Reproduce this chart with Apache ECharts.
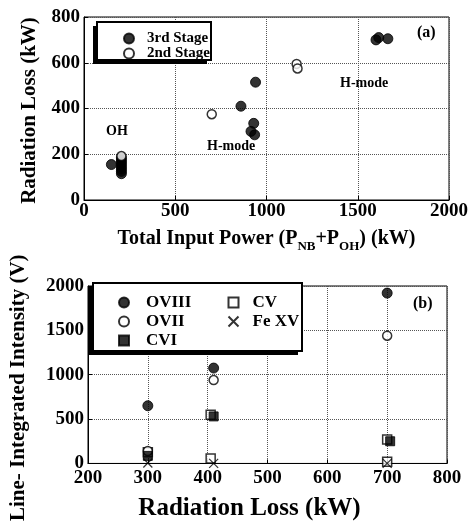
<!DOCTYPE html>
<html>
<head>
<meta charset="utf-8">
<script src="https://cdn.jsdelivr.net/npm/echarts@6/dist/echarts.min.js"></script>
<style>
  html, body { margin: 0; padding: 0; background: #fff; }
  #chart { width: 474px; height: 524px; }
</style>
</head>
<body>
<div id="chart"></div>
<script>
// panel (a): radiation loss vs total input power
const stage3 = [
  [150, 155], [205, 115], [205, 125], [205, 135], [205, 145], [205, 155],
  [205, 165], [205, 175], [205, 185],
  [860, 410], [940, 515], [930, 335], [915, 300], [935, 285],
  [1600, 700], [1615, 710], [1665, 705],
]
const stage2 = [[205, 192], [700, 375], [1165, 595], [1170, 575]]

// panel (b): line-integrated intensity vs radiation loss
const ovIII = [[300, 650], [410, 1075], [700, 1920]]
const ovII = [[300, 140], [410, 940], [700, 1440]]
const cvI = [[300, 85], [410, 530], [705, 250]]
const cv = [[300, 125], [405, 550], [405, 55], [700, 270], [700, 20]]
const feXV = [[300, 5], [410, 0], [700, 0]]

const font = 'Liberation Serif'
const tick = { fontFamily: font, fontWeight: 'bold', fontSize: 19, color: '#000', formatter: (v) => String(v) }
const split = { show: true, lineStyle: { color: '#555', type: 'dotted', width: 1 } }
const line = { lineStyle: { color: '#000', width: 1 } }

function axisX(gridIndex, min, max, interval, name, nameGap, nameSize, pad, margin) {
  return {
    type: 'value', gridIndex, min, max, interval,
    name, nameLocation: 'middle', nameGap,
    nameTextStyle: {
      fontFamily: font, fontWeight: 'bold', fontSize: nameSize, color: '#000', padding: pad,
      rich: { sub: { fontFamily: font, fontWeight: 'bold', fontSize: 13, color: '#000', verticalAlign: 'bottom', padding: [16, 0, 0, 0] } },
    },
    axisLine: line, axisTick: { inside: true, length: 4, lineStyle: { color: '#000' } },
    axisLabel: Object.assign({ margin }, tick), splitLine: split,
  }
}
function axisY(gridIndex, min, max, interval, name, nameGap, nameSize, pad) {
  return {
    type: 'value', gridIndex, min, max, interval,
    name, nameLocation: 'middle', nameGap,
    nameTextStyle: { fontFamily: font, fontWeight: 'bold', fontSize: nameSize, color: '#000', padding: pad },
    axisLine: line, axisTick: { inside: true, length: 4, lineStyle: { color: '#000' } },
    axisLabel: Object.assign({ margin: 4 }, tick), splitLine: split,
  }
}

function box(x, y, w, h) {
  return [
    { type: 'rect', shape: { x: x - 4, y: y + 4, width: w, height: h }, style: { fill: '#000' }, z: 5 },
    { type: 'rect', shape: { x, y, width: w, height: h }, style: { fill: '#fff', stroke: '#000', lineWidth: 2 }, z: 5 },
  ]
}
function label(text, left, top, size) {
  return { type: 'text', left, top, style: { text, font: 'bold ' + size + 'px ' + font, fill: '#000' }, z: 6 }
}

const filled = { color: '#000', borderColor: '#000', borderWidth: 1 }
const hollow = { color: '#fff', borderColor: '#000', borderWidth: 1.5 }
const legendText = { fontFamily: font, fontWeight: 'bold', fontSize: 15, color: '#000' }

const option = {
  animation: false,
  backgroundColor: '#fff',
  grid: [
    { left: 84, right: 25, top: 17, height: 183, show: true, borderColor: '#000', borderWidth: 1 },
    { left: 82, right: 27, top: 286, height: 184, show: true, borderColor: '#000', borderWidth: 1 },
  ],
  xAxis: [
    axisX(0, 0, 2000, 500, 'Total Input Power (P{sub|NB}+P{sub|OH}) (kW)', 24, 20, [0, 0, 0, 0], 2),
    axisX(1, 200, 800, 100, 'Radiation Loss (kW)', 33, 25, [0, 36, 0, 0], 5),
  ],
  yAxis: [
    axisY(0, 0, 800, 200, 'Radiation Loss (kW)', 44, 21, [0, 4, 0, 0]),
    axisY(1, 0, 2000, 500, 'Line- Integrated Intensity (V)', 59, 21, [0, 26, 0, 0]),
  ],
  graphic: [
    ...box(97, 22, 114, 38),
    ...box(93, 283, 209, 68),
    label('(a)', 417, 25, 16),
    label('H-mode', 340, 76, 14),
    label('H-mode', 207, 139, 14),
    label('OH', 106, 124, 14),
    label('(b)', 413, 296, 16),
  ],
  legend: [
    { data: ['3rd Stage', '2nd Stage'], orient: 'vertical', left: 118, top: 26, itemGap: 0, itemWidth: 10, itemHeight: 10, textStyle: Object.assign({}, legendText, { lineHeight: 15, padding: [0, 0, 0, 8] }), z: 10 },
    { data: ['OVIII', 'OVII', 'CVI'], orient: 'vertical', left: 113, top: 288, itemGap: 0, itemWidth: 10, itemHeight: 10, textStyle: Object.assign({}, legendText, { fontSize: 17, lineHeight: 19, padding: [0, 0, 0, 12] }), z: 10 },
    { data: ['CV', 'Fe XV'], orient: 'vertical', left: 221, top: 288, itemGap: 0, itemWidth: 10, itemHeight: 10, textStyle: Object.assign({}, legendText, { fontSize: 17, lineHeight: 19, padding: [0, 0, 0, 9] }), z: 10 },
  ],
  series: [
    { name: '3rd Stage', type: 'scatter', xAxisIndex: 0, yAxisIndex: 0, data: stage3, symbol: 'circle', symbolSize: 10, itemStyle: filled },
    { name: '2nd Stage', type: 'scatter', xAxisIndex: 0, yAxisIndex: 0, data: stage2, symbol: 'circle', symbolSize: 9, itemStyle: hollow },
    { name: 'CV', type: 'scatter', xAxisIndex: 1, yAxisIndex: 1, data: cv, symbol: 'rect', symbolSize: 9, itemStyle: hollow },
    { name: 'OVII', type: 'scatter', xAxisIndex: 1, yAxisIndex: 1, data: ovII, symbol: 'circle', symbolSize: 9, itemStyle: hollow },
    { name: 'OVIII', type: 'scatter', xAxisIndex: 1, yAxisIndex: 1, data: ovIII, symbol: 'circle', symbolSize: 10, itemStyle: filled },
    { name: 'CVI', type: 'scatter', xAxisIndex: 1, yAxisIndex: 1, data: cvI, symbol: 'rect', symbolSize: 9, itemStyle: filled },
    { name: 'Fe XV', type: 'scatter', xAxisIndex: 1, yAxisIndex: 1, data: feXV, symbol: 'path://M0,0L10,10M10,0L0,10', symbolSize: 9, itemStyle: { color: 'none', borderColor: '#000', borderWidth: 1.2 } },
  ],
}

const chart = echarts.init(document.getElementById('chart'))
chart.setOption(option)
window.addEventListener('resize', () => chart.resize())
</script>
</body>
</html>
